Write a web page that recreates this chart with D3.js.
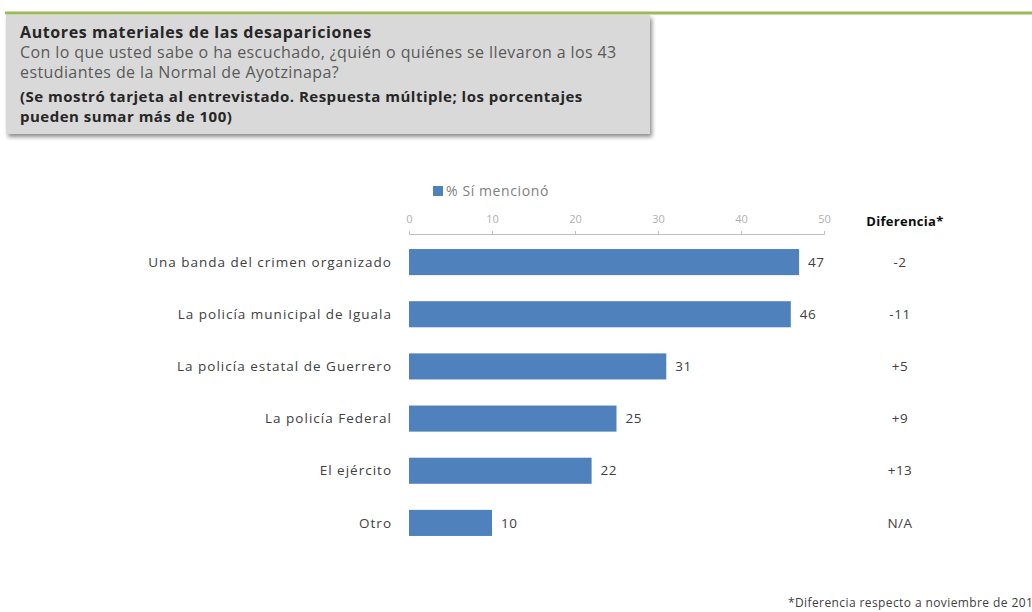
<!DOCTYPE html>
<html>
<head>
<meta charset="utf-8">
<script src="https://cdn.jsdelivr.net/npm/d3@7"></script>
<style>
  body { margin: 0; background: #fff; }
  svg { display: block; font-family: "Open Sans", Lato, sans-serif; }
</style>
</head>
<body>
<svg id="chart" width="1032" height="612"></svg>
<script>
// data
var categories = ['Una banda del crimen organizado', 'La policía municipal de Iguala',
    'La policía estatal de Guerrero', 'La policía Federal', 'El ejército', 'Otro'];
var values = [47, 46, 31, 25, 22, 10];
var diferencias = ['-2', '-11', '+5', '+9', '+13', 'N/A'];
var ticks = [0, 10, 20, 30, 40, 50];

var rows = categories.map(function (c, i) {
    return {cat: c, val: values[i], dif: diferencias[i]};
});

const svg = d3.select('#chart');

// green rule across the top
svg.append('line')
    .attr('x1', 5).attr('x2', 1032)
    .attr('y1', 13).attr('y2', 13)
    .attr('stroke', '#9bbb59')
    .attr('stroke-width', 3);

// header box with shadow
const defs = svg.append('defs');
const flt = defs.append('filter').attr('id', 'shadow')
    .attr('x', '-5%').attr('y', '-10%').attr('width', '115%').attr('height', '130%');
flt.append('feDropShadow')
    .attr('dx', 2).attr('dy', 3).attr('stdDeviation', 2)
    .attr('flood-color', '#000').attr('flood-opacity', 0.45);

svg.append('rect')
    .attr('x', 6).attr('y', 15)
    .attr('width', 644).attr('height', 119)
    .attr('fill', '#d9d9d9')
    .attr('filter', 'url(#shadow)');

const header = [
    {t: 'Autores materiales de las desapariciones', bold: true, fill: '#262626', y: 38, fs: 16, ls: 0.6},
    {t: 'Con lo que usted sabe o ha escuchado, ¿quién o quiénes se llevaron a los 43', bold: false, fill: '#595959', y: 58, fs: 16, ls: 0.4},
    {t: 'estudiantes de la Normal de Ayotzinapa?', bold: false, fill: '#595959', y: 78, fs: 16, ls: 0.4},
    {t: '(Se mostró tarjeta al entrevistado. Respuesta múltiple; los porcentajes', bold: true, fill: '#262626', y: 102, fs: 15, ls: 0.5},
    {t: 'pueden sumar más de 100)', bold: true, fill: '#262626', y: 122, fs: 15, ls: 0.5}
];
svg.selectAll('.hdr')
    .data(header)
    .enter().append('text')
    .attr('class', 'hdr')
    .attr('x', 20)
    .attr('y', function (d) { return d.y; })
    .attr('font-size', function (d) { return d.fs; })
    .attr('letter-spacing', function (d) { return d.ls; })
    .attr('font-weight', function (d) { return d.bold ? 'bold' : 'normal'; })
    .attr('fill', function (d) { return d.fill; })
    .text(function (d) { return d.t; });

// chart
const x0 = 409, x1 = 824;
const xScale = d3.scaleLinear().domain([0, 50]).range([x0, x1]);
const yScale = d3.scaleBand()
    .domain(categories)
    .range([236, 549])
    .paddingInner(0.5)
    .paddingOuter(0.25);

// legend
svg.append('rect')
    .attr('x', 433).attr('y', 186)
    .attr('width', 10).attr('height', 10)
    .attr('fill', '#4f81bd');
svg.append('text')
    .attr('x', 446).attr('y', 196)
    .attr('font-size', 14)
    .attr('letter-spacing', 0.6)
    .attr('fill', '#7f7f7f')
    .text('% Sí mencionó');

// top axis
const axis = svg.append('g')
    .attr('transform', 'translate(0,234)')
    .call(d3.axisTop(xScale).tickValues(ticks).tickSize(3).tickPadding(8));
axis.select('.domain').attr('stroke', '#bfbfbf');
axis.selectAll('.tick line').attr('stroke', '#bfbfbf');
axis.selectAll('.tick text')
    .attr('font-size', 11)
    .attr('font-family', '"Open Sans", sans-serif')
    .attr('fill', '#b0b0b0');

svg.append('text')
    .attr('x', 905).attr('y', 226)
    .attr('text-anchor', 'middle')
    .attr('font-size', 13)
    .attr('letter-spacing', 0.3)
    .attr('font-weight', 'bold')
    .attr('fill', '#0d0d0d')
    .text('Diferencia*');

const rowG = svg.selectAll('.row')
    .data(rows)
    .enter().append('g')
    .attr('class', 'row');

rowG.append('rect')
    .attr('x', xScale(0))
    .attr('y', function (d) { return yScale(d.cat); })
    .attr('width', function (d) { return xScale(d.val) - xScale(0); })
    .attr('height', yScale.bandwidth())
    .attr('fill', '#4f81bd');

rowG.append('text')
    .attr('x', 392)
    .attr('y', function (d) { return yScale(d.cat) + yScale.bandwidth() / 2; })
    .attr('dy', '0.35em')
    .attr('text-anchor', 'end')
    .attr('font-size', 13.5)
    .attr('letter-spacing', 1)
    .attr('fill', '#404040')
    .text(function (d) { return d.cat; });

rowG.append('text')
    .attr('x', function (d) { return xScale(d.val) + 9; })
    .attr('y', function (d) { return yScale(d.cat) + yScale.bandwidth() / 2; })
    .attr('dy', '0.35em')
    .attr('font-size', 13.5)
    .attr('letter-spacing', 0.5)
    .attr('fill', '#404040')
    .text(function (d) { return d.val; });

rowG.append('text')
    .attr('x', 900)
    .attr('y', function (d) { return yScale(d.cat) + yScale.bandwidth() / 2; })
    .attr('dy', '0.35em')
    .attr('text-anchor', 'middle')
    .attr('font-size', 13.5)
    .attr('letter-spacing', 0.5)
    .attr('fill', '#404040')
    .text(function (d) { return d.dif; });

// footnote, clipped by the right edge as in the original
svg.append('text')
    .attr('x', 788).attr('y', 607)
    .attr('font-size', 12)
    .attr('letter-spacing', 0.4)
    .attr('fill', '#404040')
    .text('*Diferencia respecto a noviembre de 2014');
</script>
</body>
</html>
